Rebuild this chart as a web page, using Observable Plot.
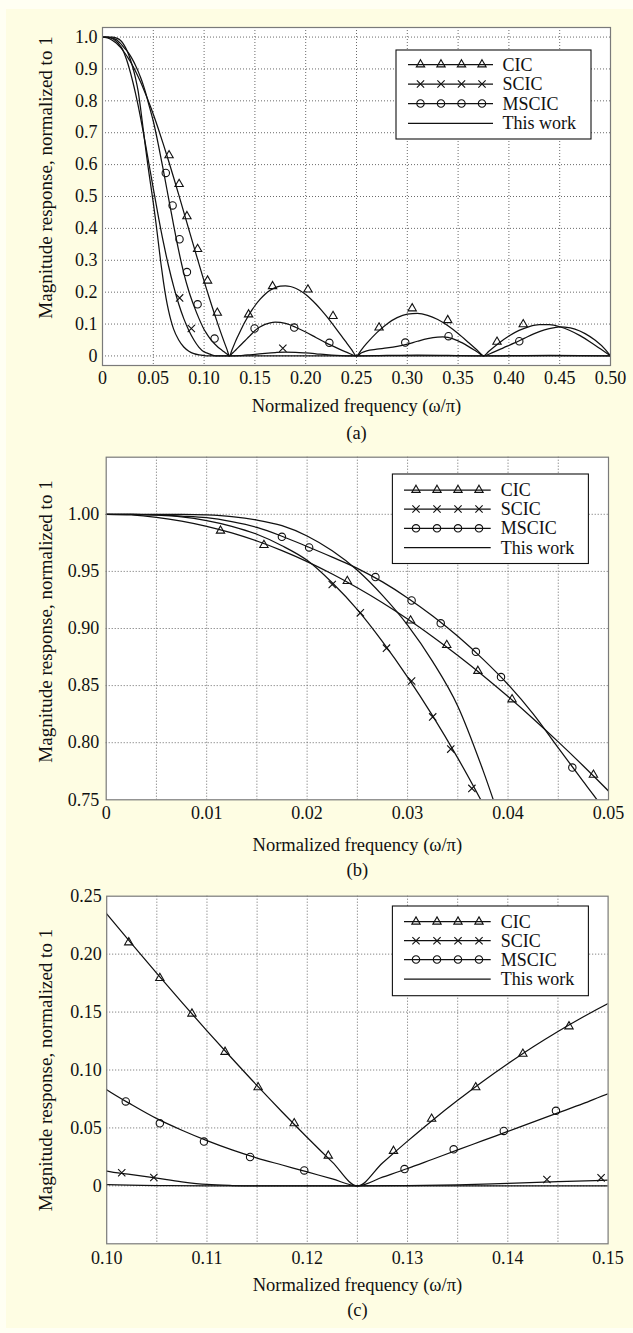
<!DOCTYPE html>
<html><head><meta charset="utf-8">
<script src="https://cdn.jsdelivr.net/npm/d3@7"></script>
<script src="https://cdn.jsdelivr.net/npm/@observablehq/plot@0.6"></script>
<style>
html,body{margin:0;padding:0;background:#fffff3;}
#root{position:relative;width:633px;height:1333px;overflow:hidden;}
#bg{position:absolute;left:6px;top:9px;width:627px;height:1319px;background:#fefde3;}
#root svg{position:absolute;left:0;overflow:visible;}
</style></head><body><div id="root"><div id="bg"></div></div>
<script>
// ---------- series (normalized frequency, magnitude) ----------
const seriesNames = ["CIC", "SCIC", "MSCIC", "This work"];
const cicLine = [[0,1],[0.0025,0.9994],[0.005,0.9974],[0.0075,0.9941],[0.01,0.9895],[0.0125,0.9837],[0.015,0.9766],[0.0175,0.9682],[0.02,0.9586],[0.0225,0.9477],[0.025,0.9357],[0.0275,0.9226],[0.03,0.9083],[0.0325,0.8928],[0.035,0.8764],[0.0375,0.8589],[0.04,0.8404],[0.0425,0.821],[0.045,0.8007],[0.0475,0.7796],[0.05,0.7577],[0.055,0.7115],[0.06,0.6628],[0.065,0.612],[0.07,0.5595],[0.075,0.5057],[0.08,0.4512],[0.085,0.3964],[0.09,0.3418],[0.095,0.2878],[0.1,0.2348],[0.1025,0.2089],[0.105,0.1834],[0.1075,0.1583],[0.11,0.1338],[0.1125,0.1099],[0.115,0.0865],[0.1175,0.0638],[0.12,0.0418],[0.1225,0.0205],[0.125,0],[0.1275,0.0197],[0.13,0.0386],[0.1325,0.0567],[0.135,0.0738],[0.1375,0.0901],[0.14,0.1054],[0.1425,0.1199],[0.145,0.1333],[0.1475,0.1458],[0.15,0.1574],[0.155,0.1774],[0.16,0.1936],[0.165,0.2059],[0.17,0.2143],[0.175,0.219],[0.18,0.22],[0.185,0.2177],[0.19,0.2121],[0.195,0.2036],[0.2,0.1923],[0.205,0.1786],[0.21,0.1629],[0.215,0.1453],[0.22,0.1263],[0.225,0.1061],[0.23,0.0852],[0.235,0.0637],[0.24,0.0422],[0.245,0.0209],[0.25,0],[0.255,0.0201],[0.26,0.0392],[0.27,0.0732],[0.28,0.1005],[0.29,0.12],[0.3,0.1309],[0.31,0.1333],[0.32,0.1274],[0.33,0.1141],[0.34,0.0946],[0.35,0.0703],[0.36,0.0429],[0.37,0.0143],[0.375,0],[0.38,0.0139],[0.39,0.04],[0.4,0.0625],[0.41,0.0801],[0.42,0.0922],[0.43,0.0982],[0.44,0.0978],[0.45,0.0915],[0.46,0.0797],[0.47,0.0636],[0.48,0.044],[0.49,0.0223],[0.5,0]];
const scicLine = [[0,1],[0.0025,1],[0.005,0.9993],[0.0075,0.9978],[0.01,0.9945],[0.0125,0.9895],[0.015,0.9825],[0.0175,0.9725],[0.02,0.9597],[0.0225,0.94],[0.025,0.9165],[0.0275,0.8885],[0.03,0.8575],[0.0325,0.8235],[0.035,0.7865],[0.0375,0.7465],[0.04,0.704],[0.0425,0.66],[0.045,0.615],[0.0475,0.57],[0.05,0.525],[0.055,0.437],[0.06,0.355],[0.065,0.282],[0.07,0.218],[0.075,0.163],[0.08,0.117],[0.085,0.08],[0.09,0.05],[0.095,0.027],[0.1,0.0127],[0.1025,0.0097],[0.105,0.0066],[0.1075,0.0035],[0.11,0.0012],[0.1125,0.0003],[0.115,0],[0.125,0],[0.13,0.0003],[0.135,0.0009],[0.14,0.0022],[0.145,0.0036],[0.15,0.005],[0.16,0.008],[0.17,0.0105],[0.18,0.012],[0.19,0.0115],[0.2,0.0095],[0.21,0.0068],[0.22,0.0038],[0.23,0.0015],[0.24,0.0003],[0.25,0],[0.28,0.0015],[0.31,0.0025],[0.34,0.0015],[0.375,0],[0.41,0.001],[0.44,0.0015],[0.47,0.001],[0.5,0]];
const mscicLine = [[0,1],[0.0025,1],[0.005,0.9995],[0.0075,0.9985],[0.01,0.997],[0.0125,0.9935],[0.015,0.9885],[0.0175,0.9808],[0.02,0.9718],[0.0225,0.9625],[0.025,0.9527],[0.0275,0.9408],[0.03,0.9268],[0.0325,0.911],[0.035,0.8932],[0.0375,0.8732],[0.04,0.851],[0.0425,0.8252],[0.045,0.7955],[0.0475,0.766],[0.05,0.736],[0.055,0.662],[0.06,0.58],[0.065,0.495],[0.07,0.41],[0.075,0.33],[0.08,0.26],[0.085,0.203],[0.09,0.157],[0.095,0.117],[0.1,0.083],[0.1025,0.07],[0.105,0.058],[0.1075,0.048],[0.11,0.039],[0.1125,0.031],[0.115,0.024],[0.1175,0.018],[0.12,0.012],[0.1225,0.006],[0.125,0],[0.1275,0.0075],[0.13,0.015],[0.1325,0.023],[0.135,0.031],[0.1375,0.039],[0.14,0.047],[0.1425,0.055],[0.145,0.063],[0.1475,0.071],[0.15,0.0795],[0.155,0.091],[0.16,0.099],[0.165,0.104],[0.17,0.106],[0.175,0.105],[0.18,0.102],[0.185,0.097],[0.19,0.09],[0.2,0.075],[0.21,0.058],[0.22,0.041],[0.23,0.026],[0.24,0.012],[0.25,0],[0.255,0.01],[0.26,0.016],[0.27,0.021],[0.28,0.025],[0.29,0.03],[0.3,0.037],[0.31,0.046],[0.32,0.054],[0.33,0.059],[0.335,0.06],[0.34,0.058],[0.35,0.047],[0.36,0.03],[0.37,0.01],[0.375,0],[0.385,0.012],[0.395,0.026],[0.405,0.04],[0.415,0.055],[0.425,0.07],[0.435,0.082],[0.445,0.089],[0.45,0.091],[0.455,0.09],[0.465,0.084],[0.475,0.07],[0.485,0.049],[0.495,0.02],[0.5,0]];
const thisWorkLine = [[0,1],[0.0025,1],[0.005,1],[0.0075,1],[0.01,0.9995],[0.0125,0.998],[0.015,0.995],[0.0175,0.99],[0.02,0.981],[0.0225,0.968],[0.025,0.951],[0.0275,0.929],[0.03,0.903],[0.0325,0.871],[0.035,0.832],[0.0375,0.776],[0.04,0.712],[0.0425,0.65],[0.045,0.59],[0.0475,0.535],[0.05,0.48],[0.0525,0.42],[0.055,0.355],[0.0575,0.29],[0.06,0.232],[0.0625,0.182],[0.065,0.142],[0.0675,0.11],[0.07,0.084],[0.075,0.05],[0.08,0.028],[0.085,0.015],[0.09,0.007],[0.095,0.003],[0.1,0.001],[0.105,0.0002],[0.11,0],[0.5,0]];

// ---------- markers per panel ----------
const markA = {
  CIC: [[0.0655,0.629],[0.0754,0.539],[0.0831,0.438],[0.0936,0.335],[0.1034,0.236],[0.113,0.135],[0.1438,0.13],[0.1674,0.2185],[0.2022,0.208],[0.2269,0.125],[0.2722,0.089],[0.3048,0.149],[0.3398,0.112],[0.3883,0.044],[0.4141,0.099]],
  SCIC: [[0.0759,0.182],[0.0874,0.086],[0.1775,0.024]],
  MSCIC: [[0.0623,0.574],[0.069,0.472],[0.0758,0.366],[0.0831,0.263],[0.0936,0.162],[0.1103,0.0545],[0.1497,0.086],[0.1887,0.089],[0.2233,0.041],[0.298,0.042],[0.3406,0.062],[0.4102,0.046]]
};
const markB = {
  CIC: [[0.01138,0.9856],[0.0157,0.973],[0.024,0.9415],[0.0303,0.9069],[0.0339,0.8855],[0.037,0.8628],[0.0404,0.8379],[0.0485,0.7718]],
  SCIC: [[0.0225,0.9386],[0.0253,0.9137],[0.0279,0.8828],[0.0304,0.854],[0.0325,0.8226],[0.0343,0.7944],[0.0364,0.76]],
  MSCIC: [[0.01749,0.9803],[0.0202,0.971],[0.0268,0.945],[0.0304,0.9245],[0.0333,0.9045],[0.0368,0.8796],[0.0393,0.8575],[0.0464,0.7782]]
};
const markC = {
  CIC: [[0.1022,0.2101],[0.1053,0.1793],[0.1085,0.1486],[0.1118,0.1156],[0.1151,0.085],[0.1187,0.054],[0.1221,0.026],[0.1286,0.0301],[0.1324,0.0578],[0.1368,0.085],[0.1415,0.1139],[0.1461,0.1376]],
  SCIC: [[0.1015,0.0113],[0.1047,0.0072],[0.1439,0.0055],[0.1493,0.0069]],
  MSCIC: [[0.1019,0.0729],[0.1053,0.054],[0.1097,0.0382],[0.1143,0.0249],[0.1197,0.0133],[0.1297,0.0145],[0.1346,0.0315],[0.1396,0.0474],[0.1448,0.0648]]
};

// ---------- axes ----------
const ticksAx = [0,0.05,0.1,0.15,0.2,0.25,0.3,0.35,0.4,0.45,0.5];
const ticksAy = [0,0.1,0.2,0.3,0.4,0.5,0.6,0.7,0.8,0.9,1.0];
const ticksBx = [0,0.01,0.02,0.03,0.04,0.05];
const gridBx = [0.005,0.01,0.015,0.02,0.025,0.03,0.035,0.04,0.045];
const ticksBy = [0.75,0.8,0.85,0.9,0.95,1.0];
const ticksCx = [0.1,0.11,0.12,0.13,0.14,0.15];
const gridCx = [0.105,0.11,0.115,0.12,0.125,0.13,0.135,0.14,0.145];
const ticksCy = [0,0.05,0.1,0.15,0.2,0.25];

const xTitle = "Normalized frequency (\u03c9/\u03c0)";
const yTitle = "Magnitude response, normalized to 1";
const FONT = "'Liberation Serif', 'Times New Roman', serif";
const symbolOf = {CIC: "triangle", SCIC: "times", MSCIC: "circle"};
const rOf = {CIC: 3.1, SCIC: 3.4, MSCIC: 3.7};

function fmt(d, n) { return d === 0 ? "0" : d.toFixed(n); }

function panel(o) {
  const marks = [
    Plot.frame({fill: "white"}),
    Plot.gridX(o.gridX, {stroke: "#6a6a6a", strokeOpacity: 1, strokeDasharray: "1,2"}),
    Plot.gridY(o.gridY, {stroke: "#6a6a6a", strokeOpacity: 1, strokeDasharray: "1,2"}),
    Plot.axisX(o.ticksX, {tickSize: 0, tickPadding: o.padX, tickFormat: d => o.fmtX(d), fontSize: 18, fill: "#111", label: null}),
    Plot.axisY(o.ticksY, {tickSize: 0, tickPadding: o.padY, tickFormat: d => o.fmtY(d), fontSize: 18, fill: "#111", label: null}),
  ];
  const lines = [cicLine, scicLine, mscicLine, thisWorkLine];
  lines.forEach(L => marks.push(Plot.line(L, {x: d => d[0], y: d => d[1], stroke: "#111", strokeWidth: 1.25, curve: "monotone-x", clip: true})));
  for (const k of ["CIC", "SCIC", "MSCIC"]) {
    marks.push(Plot.dot(o.markers[k], {x: d => d[0], y: d => d[1], symbol: symbolOf[k], r: rOf[k], stroke: "#111", strokeWidth: 1.1, fill: "none", clip: true}));
  }
  marks.push(Plot.frame({stroke: "#7a7a7a", strokeWidth: 1.2}));
  marks.push(Plot.text([xTitle], {frameAnchor: "bottom", lineAnchor: "middle", textAnchor: "middle", dy: o.xTitleDy, fontSize: 18.5, fill: "#111"}));
  marks.push(Plot.text([o.tag], {frameAnchor: "bottom", lineAnchor: "middle", textAnchor: "middle", dy: o.tagDy, fontSize: 18.5, fill: "#111"}));
  marks.push(Plot.text([yTitle], {frameAnchor: "left", lineAnchor: "middle", textAnchor: "middle", rotate: -90, dx: o.yTitleDx, dy: o.yTitleDy, fontSize: 19, fill: "#111"}));
  const svg = Plot.plot({
    width: 633, height: o.height,
    marginLeft: o.m[0], marginRight: o.m[1], marginTop: o.m[2], marginBottom: o.m[3],
    x: {domain: o.xDomain}, y: {domain: o.yDomain},
    style: {background: "transparent", fontFamily: FONT, color: "#111"},
    marks
  });
  svg.style.top = o.top + "px";
  addLegend(svg, o.legend);
  document.getElementById("root").appendChild(svg);
}

function addLegend(svg, L) {
  const g = d3.select(svg).append("g").attr("font-family", FONT).attr("font-size", 18).attr("text-anchor", "start");
  g.append("rect").attr("x", L.x).attr("y", L.y).attr("width", L.w).attr("height", L.h)
    .attr("fill", "white").attr("stroke", "#111").attr("stroke-width", 1.1);
  seriesNames.forEach((name, i) => {
    const yy = L.rows[i];
    g.append("line").attr("x1", L.lx0).attr("x2", L.lx1).attr("y1", yy).attr("y2", yy)
      .attr("stroke", "#111").attr("stroke-width", 1.25);
    if (symbolOf[name]) {
      const type = {triangle: d3.symbolTriangle, times: d3.symbolTimes, circle: d3.symbolCircle}[symbolOf[name]];
      const path = d3.symbol(type, Math.PI * rOf[name] * rOf[name])();
      L.mx.forEach(mx => g.append("path").attr("d", path).attr("transform", `translate(${mx},${yy})`)
        .attr("fill", "none").attr("stroke", "#111").attr("stroke-width", 1.1));
    }
    g.append("text").attr("x", L.tx).attr("y", yy).attr("dy", "0.34em").attr("text-anchor", "start").attr("fill", "#111").text(name);
  });
}

panel({
  top: 0, height: 445, m: [102, 23, 27, 80],
  xDomain: [0, 0.5], yDomain: [-0.03, 1.03],
  ticksX: ticksAx, ticksY: ticksAy, gridX: ticksAx.slice(1, -1), gridY: ticksAy,
  fmtX: d => fmt(d, 2), fmtY: d => fmt(d, 1), padX: 6, padY: 5,
  markers: markA, tag: "(a)", xTitleDy: 40.5, tagDy: 68, yTitleDx: -57, yTitleDy: -19,
  legend: {x: 396, y: 50, w: 195, h: 89, rows: [64.5, 84, 103.5, 123.3], lx0: 408, lx1: 493, mx: [420.5, 441, 461.5, 482], tx: 502.5}
});
panel({
  top: 440, height: 445, m: [105.7, 25, 16.7, 85.7],
  xDomain: [0, 0.05], yDomain: [0.75, 1.05],
  ticksX: ticksBx, ticksY: ticksBy, gridX: gridBx, gridY: ticksBy.slice(1),
  fmtX: d => fmt(d, 2), fmtY: d => d.toFixed(2), padX: 6, padY: 7,
  markers: markB, tag: "(b)", xTitleDy: 45.7, tagDy: 70.7, yTitleDx: -60.7, yTitleDy: -7,
  legend: {x: 392.4, y: 34, w: 196, h: 89.5, rows: [50, 69, 88.3, 107.7], lx0: 404, lx1: 490.7, mx: [416, 437, 458, 479], tx: 500.7}
});
panel({
  top: 880, height: 453, m: [106.2, 25.4, 15.7, 89.7],
  xDomain: [0.1, 0.15], yDomain: [-0.05, 0.25],
  ticksX: ticksCx, ticksY: ticksCy, gridX: gridCx, gridY: ticksCy.slice(0, -1),
  fmtX: d => d.toFixed(2), fmtY: d => fmt(d, 2), padX: 7, padY: 5,
  markers: markC, tag: "(c)", xTitleDy: 41.7, tagDy: 66.7, yTitleDx: -61.2, yTitleDy: 0,
  legend: {x: 392.4, y: 26, w: 196, h: 89.7, rows: [41.7, 60.7, 79.5, 99], lx0: 404, lx1: 490.7, mx: [416, 437, 458, 479], tx: 500.7}
});
</script></body></html>
